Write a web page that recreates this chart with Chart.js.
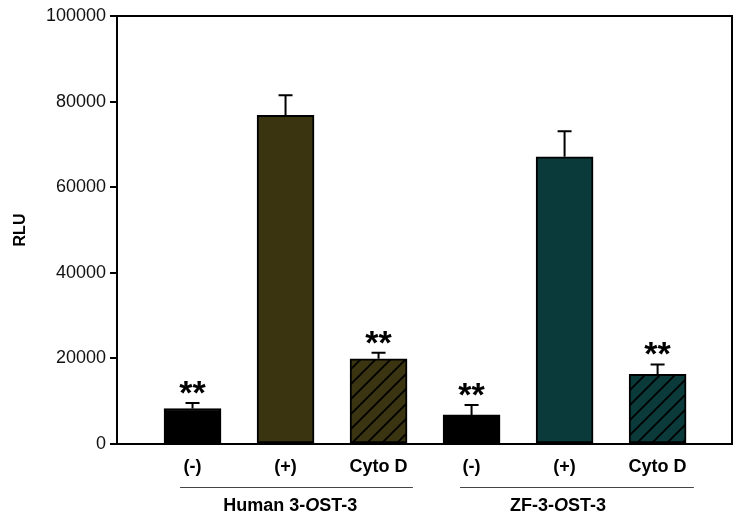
<!DOCTYPE html>
<html>
<head>
<meta charset="utf-8">
<script src="https://cdn.jsdelivr.net/npm/chart.js@4/dist/chart.umd.min.js"></script>
<style>
  html, body { margin: 0; padding: 0; background: #fff; }
  #wrap { width: 744px; height: 511px; position: relative; }
</style>
</head>
<body>
<div id="wrap"><canvas id="chart-rlu"></canvas></div>
<script>
// chart data
const categories = ['(-)', '(+)', 'Cyto D', '(-)', '(+)', 'Cyto D'];
const positions = [1, 2, 3, 4, 5, 6];
const rluValues = [8300, 76800, 19900, 6800, 67100, 16300];
const rluErrors = [1300, 4700, 1400, 2300, 6000, 2300];
const significance = ['**', '', '**', '**', '', '**'];
const groupLabels = ['Human 3-OST-3', 'ZF-3-OST-3'];
const yTicks = [0, 20000, 40000, 60000, 80000, 100000];

const OLIVE = '#3a3510';
const TEAL = '#0b3a3b';
const FONT = 'Liberation Sans, Arial, Helvetica, sans-serif';

function hatch(color) {
    const c = document.createElement('canvas');
    c.width = 15;
    c.height = 15;
    const g = c.getContext('2d');
    g.fillStyle = color;
    g.fillRect(0, 0, 15, 15);
    g.strokeStyle = '#000';
    g.lineWidth = 1.8;
    g.beginPath();
    g.moveTo(-2, 17); g.lineTo(17, -2);
    g.moveTo(-2, 2); g.lineTo(2, -2);
    g.moveTo(13, 17); g.lineTo(17, 13);
    g.stroke();
    return g.createPattern(c, 'repeat');
}

const barColors = ['#000000', OLIVE, hatch(OLIVE), '#000000', TEAL, hatch(TEAL)];

// error bars, stars, frame and group labels
const extras = {
    id: 'extras',
    afterDatasetsDraw(chart) {
        const {ctx, chartArea, scales: {x, y}} = chart;
        const meta = chart.getDatasetMeta(0);
        ctx.save();
        ctx.strokeStyle = '#000';
        ctx.lineWidth = 2;
        meta.data.forEach((bar, i) => {
            const top = y.getPixelForValue(rluValues[i] + rluErrors[i]);
            ctx.beginPath();
            ctx.moveTo(bar.x, bar.y);
            ctx.lineTo(bar.x, top);
            ctx.moveTo(bar.x - 7, top);
            ctx.lineTo(bar.x + 7, top);
            ctx.stroke();
            if (significance[i]) {
                ctx.fillStyle = '#000';
                ctx.font = 'bold 34px ' + FONT;
                ctx.textAlign = 'center';
                ctx.textBaseline = 'alphabetic';
                ctx.fillText(significance[i], bar.x, top + 1);
            }
        });
        // top and right frame
        ctx.beginPath();
        ctx.moveTo(chartArea.left, chartArea.top);
        ctx.lineTo(chartArea.right, chartArea.top);
        ctx.lineTo(chartArea.right, chartArea.bottom);
        ctx.stroke();

        // group underlines and labels
        const lineY = chartArea.bottom + 43;
        const textY = chartArea.bottom + 62;
        ctx.lineWidth = 1;
        ctx.strokeStyle = '#444';
        [[0.866, 3.37], [3.876, 6.39]].forEach(([a, b]) => {
            ctx.beginPath();
            ctx.moveTo(x.getPixelForValue(a), lineY + 0.5);
            ctx.lineTo(x.getPixelForValue(b), lineY + 0.5);
            ctx.stroke();
        });
        ctx.fillStyle = '#000';
        ctx.textBaseline = 'middle';
        ctx.textAlign = 'left';
        [2.05, 4.93].forEach((c, gi) => {
            // italic "O" in OST
            const label = groupLabels[gi];
            const k = label.indexOf('OST');
            const parts = [
                [label.slice(0, k), 'bold 18px ' + FONT],
                ['O', 'italic bold 18px ' + FONT],
                [label.slice(k + 1), 'bold 18px ' + FONT]
            ];
            let w = 0;
            parts.forEach(([t, f]) => { ctx.font = f; w += ctx.measureText(t).width; });
            let px = x.getPixelForValue(c) - w / 2;
            parts.forEach(([t, f]) => {
                ctx.font = f;
                ctx.fillText(t, px, textY);
                px += ctx.measureText(t).width;
            });
        });
        ctx.restore();
    }
};

function renderChart() {
    const ctx = document.getElementById('chart-rlu').getContext('2d');
    new Chart(ctx, {
        type: 'bar',
        data: {
            datasets: [{
                data: positions.map((p, i) => ({x: p, y: rluValues[i]})),
                backgroundColor: barColors,
                borderColor: '#000',
                borderWidth: 2,
                borderSkipped: false,
                barThickness: 57
            }]
        },
        options: {
            responsive: true,
            maintainAspectRatio: false,
            animation: false,
            layout: {padding: {top: 16, right: 12, left: 0, bottom: 0}},
            plugins: {legend: {display: false}, tooltip: {enabled: false}},
            scales: {
                x: {
                    type: 'linear',
                    offset: false,
                    min: 0.188,
                    max: 6.80,
                    afterBuildTicks: (s) => { s.ticks = positions.map(v => ({value: v})); },
                    afterFit: (s) => { s.height = 67; },
                    grid: {display: false, drawTicks: false, offset: false},
                    border: {display: true, color: '#000', width: 2},
                    ticks: {
                        autoSkip: false,
                        maxRotation: 0,
                        padding: 12,
                        color: '#000',
                        font: {family: FONT, size: 18, weight: 'bold'},
                        callback: (v, i) => categories[i]
                    }
                },
                y: {
                    min: 0,
                    max: 100000,
                    afterBuildTicks: (s) => { s.ticks = yTicks.map(v => ({value: v})); },
                    afterFit: (s) => { s.width = 117; },
                    grid: {drawOnChartArea: false, drawTicks: true, tickLength: 7, color: '#000', lineWidth: 2},
                    border: {display: true, color: '#000', width: 2},
                    title: {display: true, text: 'RLU', color: '#000', font: {family: FONT, size: 16, weight: 'bold'}, padding: {top: 11, bottom: 0}},
                    ticks: {
                        padding: 4,
                        color: '#111',
                        font: {family: FONT, size: 18},
                        callback: (v) => String(v)
                    }
                }
            }
        },
        plugins: [extras]
    });
}

renderChart();
</script>
</body>
</html>
